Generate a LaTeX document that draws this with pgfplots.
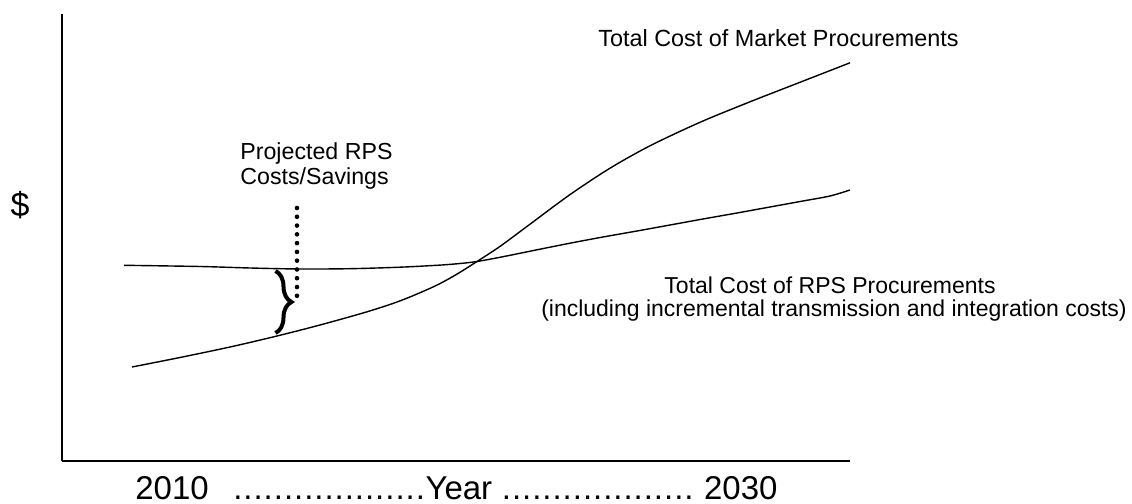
\documentclass[border=0pt]{standalone}
\usepackage{pgfplots}
\pgfplotsset{compat=1.18}
\usepackage{fontspec}
\setmainfont{Liberation Sans}
\usetikzlibrary{decorations.pathreplacing}

\pgfplotstableread{
x y
132 137
180 146.5
230 157
275 167.5
320 179
367 192.2
400 203.1
433 217
455 228.7
477 242.5
500 257.6
530 279.8
570 309.4
610 335.8
650 358.2
700 381.7
750 402.2
800 421.7
850 441.2
}\market

\pgfplotstableread{
x y
124 238.7
200 237.5
250 236
300 235
350 235.3
400 236.8
440 238.9
460 240.5
477 242.5
503 247.3
537 254.2
570 260.8
603 267
637 273
670 279
703 285
737 291
770 297
803 303
830 308
850 314
}\rps

\newcommand{\dotlead}{\xleaders\hbox to 5pt{\hss.\hss}\hfil}

\begin{document}
\begin{tikzpicture}
\begin{axis}[
  x=0.5pt, y=0.5pt,
  xmin=62, xmax=850, ymin=42.5, ymax=490,
  axis x line*=bottom, axis y line*=left,
  axis line style={-, line width=1pt, black},
  xtick=\empty, ytick=\empty,
  clip=false,
  xlabel={\fontsize{16.5}{18}\selectfont\hbox to 321pt{2010\hskip 12pt\dotlead Year\ \dotlead\hskip 5pt 2030}},
  xlabel style={at={(axis description cs:0.0926,-0.0838)}, anchor=base west, inner sep=0pt},
  ylabel={\fontsize{17}{18}\selectfont \$},
  ylabel style={rotate=-90, at={(axis description cs:-0.0533,0.5732)}, anchor=center, inner sep=0pt},
]
\addplot[black, line width=0.7pt, smooth] table[x=x,y=y] {\market};
\addplot[black, line width=0.7pt, smooth] table[x=x,y=y] {\rps};

\draw[black, line width=2.3pt, line cap=round, dash pattern=on 0pt off 4.39pt]
  (axis cs:297,296) -- (axis cs:297,207.2);
\draw[black, line width=2pt, decorate, decoration={brace, amplitude=8pt}]
  (axis cs:275.5,233) -- (axis cs:275.5,171);

\node[anchor=base, inner sep=0pt] at (axis cs:778.5,457) {\fontsize{11.7}{12.5}\selectfont Total Cost of Market Procurements};
\node[anchor=base west, inner sep=0pt] at (axis cs:240,344) {\fontsize{11.6}{12.5}\selectfont Projected RPS};
\node[anchor=base west, inner sep=0pt] at (axis cs:240,319) {\fontsize{11.6}{12.5}\selectfont Costs/Savings};
\node[anchor=base, inner sep=0pt] at (axis cs:830,210.5) {\fontsize{11.5}{12.5}\selectfont Total Cost of RPS Procurements};
\node[anchor=base, inner sep=0pt] at (axis cs:834,187) {\fontsize{11.5}{12.5}\selectfont (including incremental transmission and integration costs)};

\coordinate (bl) at (axis cs:0,0);
\coordinate (tr) at (axis cs:1132,504);
\end{axis}
\pgfresetboundingbox
\path (bl) rectangle (tr);
\end{tikzpicture}
\end{document}
